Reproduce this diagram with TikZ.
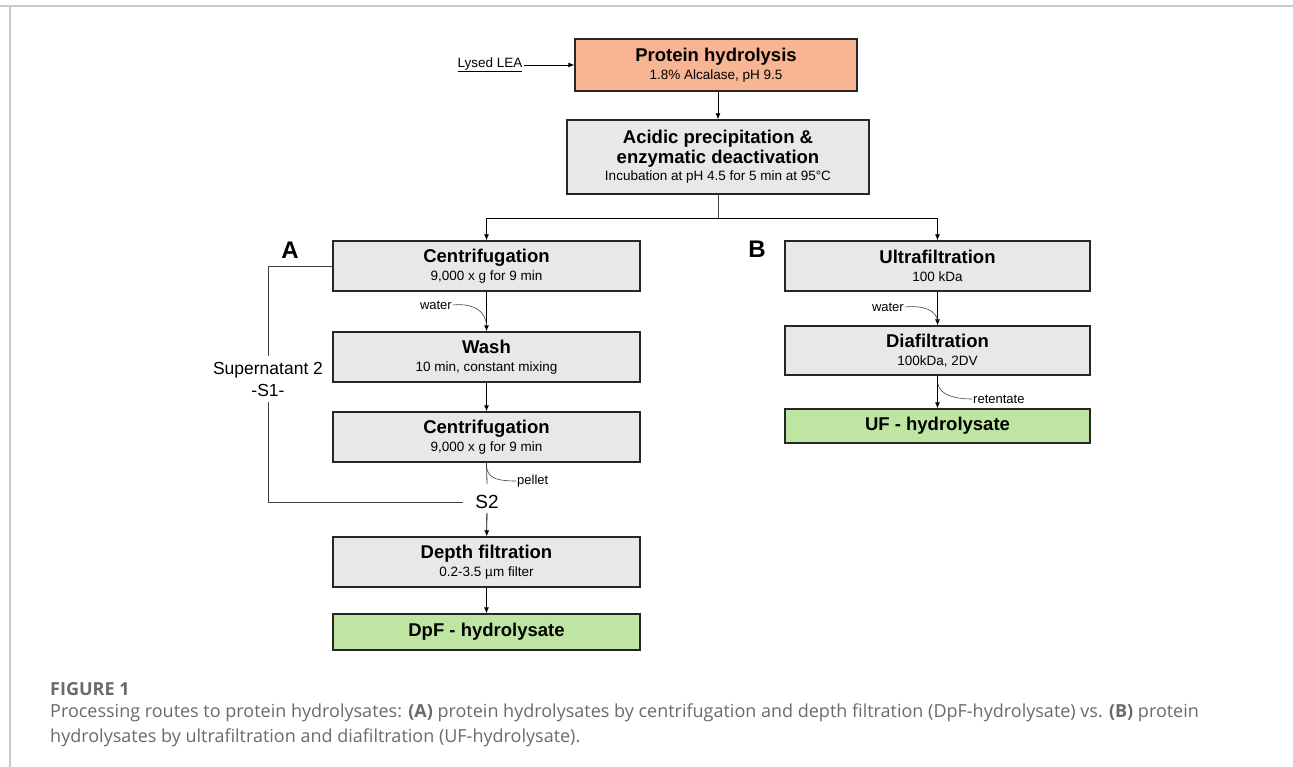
\documentclass[tikz,border=0pt]{standalone}
\usepackage{fontspec}
\setmainfont{Liberation Sans}
\newfontfamily\capfont{Open Sans}
\usetikzlibrary{arrows.meta,positioning}

\definecolor{boxgrey}{HTML}{E8E8E8}
\definecolor{hydorange}{HTML}{F8B594}
\definecolor{prodgreen}{HTML}{BEE5A2}
\definecolor{capgrey}{HTML}{6A6A6A}
\definecolor{framegrey}{HTML}{C8C8C8}

\newcommand{\steptitle}[1]{{\fontsize{18.5}{22}\selectfont\bfseries #1}}

\tikzset{
  stepbox/.style={draw=black!85, line width=1.3pt, fill=boxgrey, align=center,
    minimum width=307pt, minimum height=50pt, inner sep=2pt,
    font=\fontsize{13.5}{16}\selectfont},
  prodbox/.style={stepbox, fill=prodgreen, minimum height=36pt},
  arr/.style={-{Latex[length=6pt,width=5pt]}, line width=0.8pt},
  flow/.style={line width=0.8pt, black!75},
  side/.style={font=\fontsize{13}{15}\selectfont, inner sep=1pt},
  caption/.style={anchor=base west, inner sep=0pt, text=capgrey, font=\capfont\fontsize{18}{22}\selectfont},
}

\begin{document}
\begin{tikzpicture}[x=1pt,y=-1pt]
        \useasboundingbox (0,0) rectangle (1293,767);

        % Draw the frame
        \draw[framegrey, line width=2pt] (0,6) -- (1293,6);
        \draw[framegrey, line width=1.5pt] (10,6) -- (10,767);

        % Top of the scheme
        \node[stepbox, fill=hydorange, minimum width=282pt, minimum height=52pt] (hydro) at (716,65)
            {\steptitle{Protein hydrolysis}\\[2pt]1.8\% Alcalase, pH 9.5};
        \node[inner sep=1pt, font=\fontsize{13.5}{16}\selectfont] (lea) at (490,65) {\underline{Lysed LEA}};
        \node[stepbox, minimum width=302pt, minimum height=74pt] (acid) at (718,157)
            {\steptitle{Acidic precipitation \&}\\[2pt]\steptitle{enzymatic deactivation}\\[1pt]Incubation at pH 4.5 for 5 min at 95\textdegree C};
        \coordinate (split) at (718,218);

        % Route A
        \node[font=\fontsize{24}{28}\selectfont\bfseries] (labA) at (290,250) {A};
        \node[stepbox] (cent1) at (486.5,266) {\steptitle{Centrifugation}\\[2pt]9,000 x g for 9 min};
        \node[stepbox] (wash) at (486.5,357) {\steptitle{Wash}\\[2pt]10 min, constant mixing};
        \node[stepbox] (cent2) at (486.5,437) {\steptitle{Centrifugation}\\[2pt]9,000 x g for 9 min};
        \node[font=\fontsize{19}{22}\selectfont, inner xsep=12pt, inner ysep=4pt] (s2) at (487,502) {S2};
        \node[stepbox] (depth) at (486.5,562) {\steptitle{Depth filtration}\\[2pt]0.2-3.5 \textmu m filter};
        \node[prodbox] (dpf) at (486.5,632) {\steptitle{DpF - hydrolysate}};
        \node[align=center, font=\fontsize{17.5}{22}\selectfont, inner sep=6pt] (sup) at (268,379) {Supernatant 2\\-S1-};
        \node[side, anchor=east] (waterA) at (453,305) {water};
        \node[side, anchor=west] (pellet) at (516,481) {pellet};
        \coordinate (pelletend) at (487,484);

        % Route B
        \node[font=\fontsize{24}{28}\selectfont\bfseries] (labB) at (757,249) {B};
        \node[stepbox, minimum width=305pt] (ultra) at (937.5,266) {\steptitle{Ultrafiltration}\\[2pt]100 kDa};
        \node[stepbox, minimum width=305pt, minimum height=49pt] (dia) at (937.5,350.5) {\steptitle{Diafiltration}\\[2pt]100kDa, 2DV};
        \node[prodbox, minimum width=305pt, minimum height=34pt] (uf) at (937.5,426) {\steptitle{UF - hydrolysate}};
        \node[side, anchor=east] (waterB) at (905,307) {water};
        \node[side, anchor=west] (retent) at (972,399) {retentate};

        % Connectors
        \draw[arr] (lea.east) -- (hydro.west);
        \draw[arr] (hydro.south -| acid.north) -- (acid.north);
        \draw[flow] (acid.south) -- (split);
        \draw[arr] (split) -| (cent1.north);
        \draw[arr] (split) -| (ultra.north);
        \draw[arr] (cent1) -- (wash);
        \draw[arr] (wash) -- (cent2);
        \draw[flow] (cent2.south) -- (pelletend);
        \draw[arr] (s2) -- (depth);
        \draw[arr] (depth) -- (dpf);
        \draw[flow] (cent1.west) -| (sup.north);
        \draw[flow] (sup.south) |- (s2.west);
        \draw[arr] (ultra) -- (dia);
        \draw[arr] (dia) -- (uf);

        % Side streams
        \draw[flow, line width=0.6pt] (waterA.east) .. controls (472,303) and (486,310) .. (486.5,326);
        \draw[flow, line width=0.6pt] (487,469) .. controls (489,479) and (500,481) .. (pellet.west);
        \draw[flow, line width=0.6pt] (waterB.east) .. controls (924,305) and (937,311) .. (937.5,321);
        \draw[flow, line width=0.6pt] (938,384) .. controls (940,395) and (955,399) .. (retent.west);

        % Caption
        \node[caption, font=\capfont\fontsize{18}{22}\selectfont\bfseries] (figlab) at (50,695) {FIGURE 1};
        \node[caption] (cap1) at (50,717)
            {Processing routes to protein hydrolysates: \textbf{(A)} protein hydrolysates by centrifugation and depth filtration (DpF-hydrolysate) vs. \textbf{(B)} protein};
        \node[caption] (cap2) at (50,742)
            {hydrolysates by ultrafiltration and diafiltration (UF-hydrolysate).};
\end{tikzpicture}
\end{document}
